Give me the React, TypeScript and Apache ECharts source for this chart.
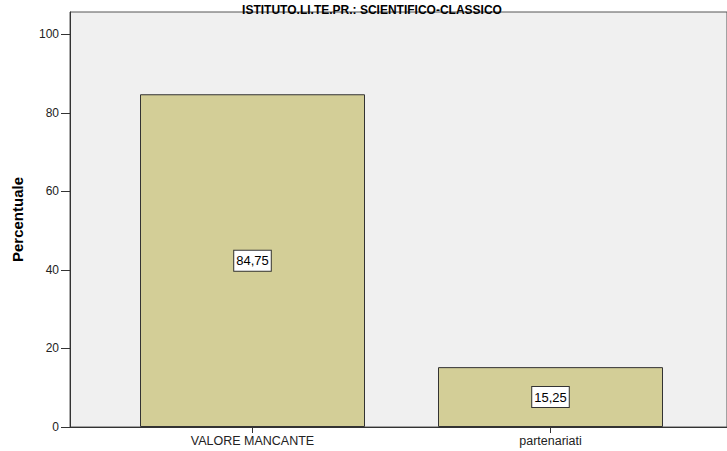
import React, { useEffect, useRef } from "react";
import * as echarts from "echarts";

const categories = ["VALORE MANCANTE", "partenariati"];
const percentValues = [84.75, 15.25];
const yTickValues = [0, 20, 40, 60, 80, 100];
const chartTitle = "ISTITUTO.LI.TE.PR.: SCIENTIFICO-CLASSICO";
const yAxisName = "Percentuale";

const FONT = "'Liberation Sans', Arial, sans-serif";
const Y_MAX = 105.7;

export default function App() {
  const ref = useRef<HTMLDivElement>(null);
  useEffect(() => {
    if (!ref.current) return;
    const chart = echarts.init(ref.current, null, { renderer: "svg" });
    chart.setOption({
      animation: false,
      backgroundColor: "#ffffff",
      title: {
        text: chartTitle,
        left: 367,
        top: -1,
        textAlign: "center",
        textStyle: { fontFamily: FONT, fontSize: 12, fontWeight: "bold", color: "#000", lineHeight: 12 },
      },
      grid: [
        {
          left: 70,
          top: 12,
          right: -20,
          bottom: 24,
          show: true,
          backgroundColor: "#F0F0F0",
          borderColor: "#555555",
          borderWidth: 1,
        },
        {
          left: 103.5,
          top: 12,
          width: 596,
          bottom: 24,
        },
      ],
      xAxis: [
        {
          gridIndex: 0,
          type: "value",
          min: 0,
          max: 1,
          axisLine: { show: true, onZero: false, lineStyle: { color: "#333333", width: 1 } },
          axisTick: { show: false },
          axisLabel: { show: false },
          splitLine: { show: false },
        },
        {
          gridIndex: 1,
          type: "category",
          data: categories,
          axisLine: { show: false },
          axisTick: { show: true, alignWithLabel: true, length: 6, lineStyle: { color: "#333333" } },
          axisLabel: { fontFamily: FONT, fontSize: 12.5, color: "#222", margin: 7 },
        },
      ],
      yAxis: [
        {
          gridIndex: 0,
          type: "value",
          min: 0,
          max: Y_MAX,
          name: yAxisName,
          nameLocation: "middle",
          nameGap: 45,
          nameTextStyle: { fontFamily: FONT, fontSize: 15, fontWeight: "bold", color: "#000" },
          axisLine: { show: true, lineStyle: { color: "#333333", width: 1 } },
          axisTick: { show: true, length: 9, customValues: yTickValues, lineStyle: { color: "#333333" } },
          axisLabel: { fontFamily: FONT, fontSize: 12, color: "#222", margin: 11, customValues: yTickValues },
          splitLine: { show: false },
        },
        {
          gridIndex: 1,
          type: "value",
          min: 0,
          max: Y_MAX,
          show: false,
        },
      ],
      series: [
        {
          type: "bar",
          xAxisIndex: 1,
          yAxisIndex: 1,
          data: percentValues,
          barWidth: 225,
          itemStyle: { color: "#D3CE97", borderColor: "#333333", borderWidth: 1 },
          label: {
            show: true,
            position: "inside",
            formatter: (p: any) => String(p.value).replace(".", ","),
            fontFamily: FONT,
            fontSize: 13,
            color: "#000",
            backgroundColor: "#ffffff",
            borderColor: "#333333",
            borderWidth: 1,
            padding: [4, 2, 3, 2],
          },
        },
      ],
    });
    return () => chart.dispose();
  }, []);
  return <div ref={ref} style={{ width: 727, height: 451, position: "absolute", left: 0, top: 0 }} />;
}
